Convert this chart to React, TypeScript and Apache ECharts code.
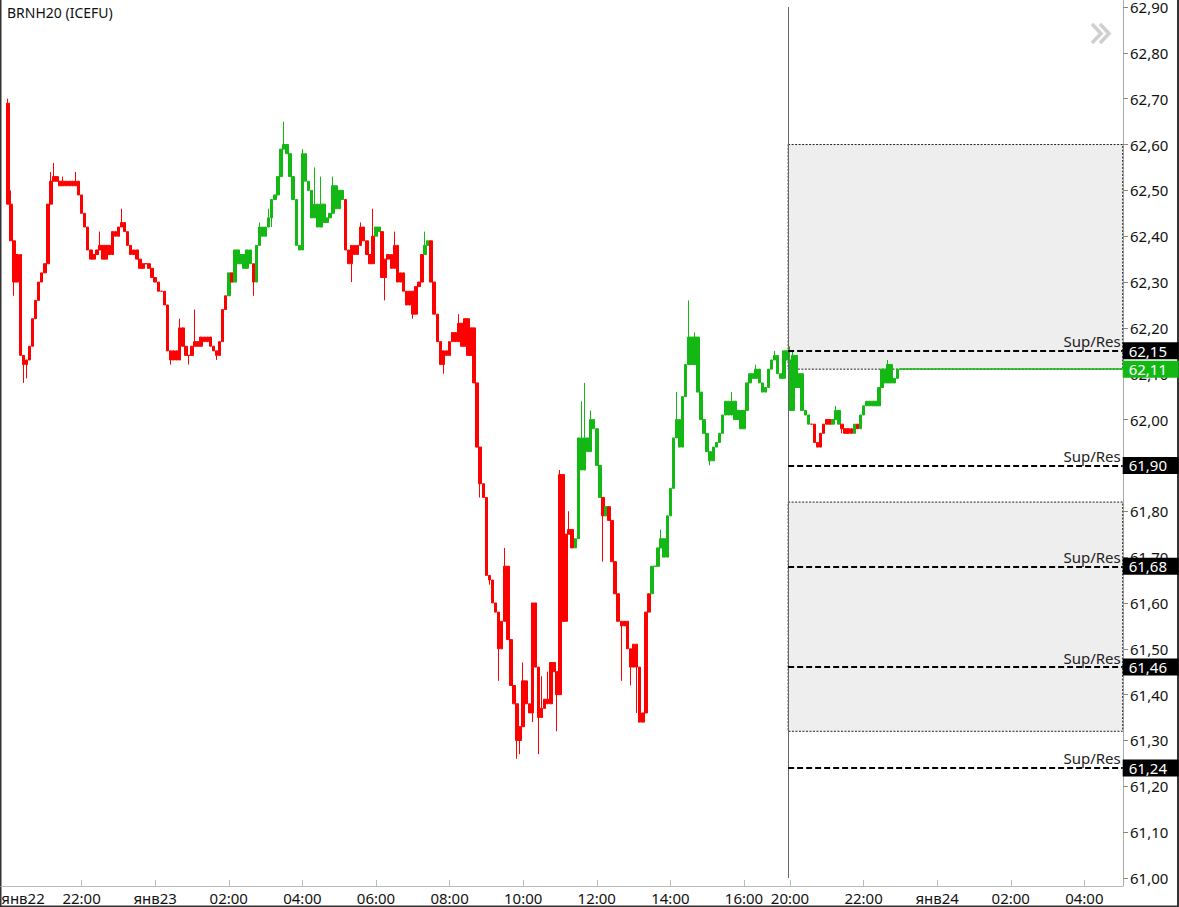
import React, { useEffect, useRef } from 'react';
import * as echarts from 'echarts';

const FONT = "'Noto Sans', 'DejaVu Sans', sans-serif";
const TITLE = 'BRNH20 (ICEFU)';
const RED = '#ff0000';
const GREEN = '#14b814';

// 5-minute bars, slot 0 = 20:00 (янв22). Open of each bar = previous close.
const FIRST_OPEN = 62.69;
const CLOSES = [
  62.47, 62.39, 62.30, 62.36, 62.14, 62.12, 62.13, 62.16, 62.22, 62.26,
  62.30, 62.32, 62.34, 62.47, 62.52, 62.53, 62.52, 62.51, 62.52, 62.51,
  62.52, 62.51, 62.52, 62.49, 62.45, 62.42, 62.37, 62.35, 62.36, 62.37,
  62.38, 62.35, 62.38, 62.36, 62.41, 62.40, 62.42, 62.43, 62.41, 62.38,
  62.36, 62.37, 62.35, 62.33, 62.34, 62.34, 62.33, 62.31, 62.30, 62.28,
  62.28, 62.25, 62.15, 62.13, 62.15, 62.13, 62.20, 62.16, 62.14, 62.14,
  62.16, 62.17, 62.16, 62.18, 62.17, 62.18, 62.16, 62.15, 62.14, 62.17,
  62.24, 62.27, 62.32, 62.30, 62.37, 62.34, 62.36, 62.33, 62.37, 62.34,
  62.30, 62.38, 62.42, 62.40, 62.42, 62.44, 62.48, 62.49, 62.53, 62.59,
  62.60, 62.58, 62.53, 62.48, 62.38, 62.37, 62.58, 62.52, 62.50, 62.44,
  62.47, 62.42, 62.47, 62.43, 62.44, 62.45, 62.51, 62.46, 62.50, 62.48,
  62.37, 62.34, 62.38, 62.36, 62.38, 62.42, 62.39, 62.36, 62.34, 62.40,
  62.42, 62.41, 62.31, 62.35, 62.36, 62.33, 62.38, 62.30, 62.32, 62.28,
  62.25, 62.28, 62.23, 62.29, 62.30, 62.36, 62.38, 62.39, 62.30, 62.23,
  62.17, 62.12, 62.15, 62.14, 62.17, 62.19, 62.17, 62.21, 62.16, 62.22,
  62.14, 62.20, 62.08, 61.94, 61.86, 61.83, 61.66, 61.65, 61.60, 61.58,
  61.50, 61.56, 61.68, 61.52, 61.42, 61.38, 61.30, 61.33, 61.43, 61.38,
  61.36, 61.60, 61.46, 61.35, 61.37, 61.39, 61.38, 61.47, 61.45, 61.40,
  61.88, 61.56, 61.75, 61.76, 61.72, 61.74, 61.96, 61.89, 61.96, 61.93,
  62.00, 61.98, 61.90, 61.83, 61.79, 61.81, 61.78, 61.69, 61.62, 61.56,
  61.55, 61.56, 61.50, 61.46, 61.51, 61.46, 61.34, 61.36, 61.58, 61.62,
  61.68, 61.68, 61.72, 61.74, 61.70, 61.79, 61.85, 61.96, 62.00, 61.94,
  62.05, 62.12, 62.18, 62.12, 62.18, 62.06, 62.00, 61.97, 61.93, 61.91,
  61.94, 61.95, 61.97, 62.01, 62.04, 62.01, 62.04, 62.00, 62.02, 61.98,
  62.02, 62.08, 62.10, 62.09, 62.11, 62.08, 62.06, 62.07, 62.11, 62.13,
  62.14, 62.10, 62.09, 62.15, 62.13, 62.02, 62.14, 62.07, 62.10, 62.02,
  62.01, 61.99, 61.99, 61.95, 61.94, 61.97, 61.99, 62.00, 61.99, 62.00,
  62.02, 61.99, 61.98, 61.97, 61.98, 61.97, 61.99, 61.98, 62.01, 62.03,
  62.04, 62.03, 62.04, 62.03, 62.07, 62.11, 62.08, 62.12, 62.08, 62.09,
  62.11, 62.11,
];

// [bar index, price] of visible wicks
const HIGH_WICKS: [number, number][] = [
  [0, 62.70], [1, 62.50], [14, 62.54], [15, 62.56], [18, 62.53], [22, 62.54], [30, 62.41],
  [37, 62.46], [56, 62.22], [61, 62.24], [82, 62.43], [85, 62.46], [90, 62.65], [96, 62.59],
  [100, 62.55], [102, 62.53], [106, 62.53], [115, 62.43], [119, 62.46], [126, 62.41],
  [136, 62.41], [147, 62.23], [162, 61.72], [168, 61.47], [174, 61.44], [176, 61.45],
  [180, 61.89], [183, 61.80], [187, 62.04], [188, 62.08], [190, 62.02], [213, 61.76],
  [218, 62.06], [222, 62.26], [224, 62.19], [236, 62.06], [244, 62.12], [250, 62.15],
  [255, 62.16], [256, 62.15], [270, 62.03], [287, 62.13],
];
const LOW_WICKS: [number, number][] = [
  [2, 62.27], [5, 62.08], [6, 62.09], [53, 62.12], [59, 62.12], [68, 62.13], [80, 62.27],
  [86, 62.42], [112, 62.30], [123, 62.26], [132, 62.22], [142, 62.10], [154, 61.83],
  [157, 61.64], [160, 61.43], [166, 61.26], [167, 61.27], [171, 61.34], [173, 61.27],
  [179, 61.32], [194, 61.69], [200, 61.43], [203, 61.42], [205, 61.36], [229, 61.90],
  [272, 61.97],
];
// [first bar index, trend colour] segments
const TREND_STARTS: [number, 'up' | 'down'][] = [
  [0, 'down'], [72, 'up'], [73, 'down'], [74, 'up'], [80, 'down'], [81, 'up'], [110, 'down'],
  [120, 'up'], [122, 'down'], [136, 'up'], [138, 'down'], [185, 'up'], [194, 'down'],
  [195, 'up'], [196, 'down'], [210, 'up'], [262, 'down'], [269, 'up'], [272, 'down'],
  [276, 'up'], [277, 'down'], [278, 'up'],
];

const X_LABEL_SLOTS = [-2.2, 24, 48, 72, 96, 120, 144, 168, 192, 216, 240, 255, 279, 303, 327, 351];
const X_LABELS = ['янв22', '22:00', 'янв23', '02:00', '04:00', '06:00', '08:00', '10:00', '12:00',
  '14:00', '16:00', '20:00', '22:00', 'янв24', '02:00', '04:00'];
const X_TICK_SLOTS = [24, 48, 72, 96, 120, 144, 168, 192, 216, 240, 255, 279, 303, 327, 351];
const Y_TICKS = [61.0, 61.1, 61.2, 61.3, 61.4, 61.5, 61.6, 61.7, 61.8, 61.9,
  62.0, 62.1, 62.2, 62.3, 62.4, 62.5, 62.6, 62.7, 62.8, 62.9];

const SUP_RES = [62.15, 61.90, 61.68, 61.46, 61.24];
const LAST_PRICE = 62.11;
const ZONES: [number, number][] = [[62.60, 62.11], [61.82, 61.32]];
const SESSION_SLOT = 254.4;
const SESSION_TOP = 62.90;
const SESSION_BOTTOM = 61.00;

const X_MIN = -2.28;
const X_MAX = 363.6;
const X_END = 363.5;
const Y_MIN = 60.9825;
const Y_MAX = 62.9153;

const fmt = (v: number) => v.toFixed(2).replace('.', ',');

function trendAt(i: number) {
  let t: 'up' | 'down' = 'down';
  for (const [start, tr] of TREND_STARTS) if (i >= start) t = tr;
  return t;
}

function buildOption() {
  const candles = CLOSES.map((c, i) => {
    const o = i === 0 ? FIRST_OPEN : CLOSES[i - 1];
    const hw = HIGH_WICKS.find((w) => w[0] === i);
    const lw = LOW_WICKS.find((w) => w[0] === i);
    const h = Math.max(o, c, hw ? hw[1] : -Infinity);
    const l = Math.min(o, c, lw ? lw[1] : Infinity);
    const col = trendAt(i) === 'up' ? GREEN : RED;
    return {
      value: [i, o, c, l, h],
      itemStyle: { color: col, color0: col, borderColor: col, borderColor0: col, borderColorDoji: col },
    };
  });

  const boxLabel = (v: number, bg: string) => ({
    show: true,
    position: 'end',
    distance: 0,
    formatter: fmt(v),
    color: '#fff',
    backgroundColor: bg,
    fontSize: 15,
    fontFamily: FONT,
    lineHeight: 15,
    width: 45,
    padding: [1, 5, 1, 6],
  });

  const markLines: any[] = [];
  markLines.push([
    { coord: [SESSION_SLOT, SESSION_TOP], lineStyle: { color: '#666', width: 1, type: 'solid' }, label: { show: false } },
    { coord: [SESSION_SLOT, SESSION_BOTTOM] },
  ]);
  SUP_RES.forEach((v) => {
    markLines.push([
      {
        coord: [SESSION_SLOT, v],
        lineStyle: { color: '#000', width: 2.2, type: [6, 3] },
        label: { show: true, position: 'insideEndTop', formatter: 'Sup/Res', color: '#222', fontSize: 15, fontFamily: FONT, distance: [2, 2] },
      },
      { coord: [X_END, v] },
    ]);
    markLines.push([
      { coord: [SESSION_SLOT, v], lineStyle: { color: 'rgba(0,0,0,0)', width: 0 }, label: boxLabel(v, '#000') },
      { coord: [X_END, v] },
    ]);
  });
  markLines.push([
    { coord: [CLOSES.length - 1, LAST_PRICE], lineStyle: { color: GREEN, width: 1.5, type: 'solid' }, label: boxLabel(LAST_PRICE, GREEN) },
    { coord: [X_END, LAST_PRICE] },
  ]);

  return {
    animation: false,
    backgroundColor: '#fff',
    textStyle: { fontFamily: FONT },
    title: {
      text: TITLE,
      left: 7,
      top: 5,
      padding: 0,
      textStyle: { fontSize: 14, fontWeight: 'normal', color: '#111', fontFamily: FONT },
    },
    grid: { left: 1, right: 56, top: 0, bottom: 21, containLabel: false, outerBoundsMode: 'none' },
    xAxis: {
      type: 'value',
      min: X_MIN,
      max: X_MAX,
      axisLine: { show: true, onZero: false, lineStyle: { color: '#bbb', width: 1 } },
      axisTick: { show: true, inside: true, length: 6, customValues: X_TICK_SLOTS, lineStyle: { color: '#bbb' } },
      axisLabel: {
        customValues: X_LABEL_SLOTS,
        formatter: (v: number) => {
          const k = X_LABEL_SLOTS.findIndex((s) => Math.abs(s - v) < 0.01);
          return k >= 0 ? X_LABELS[k] : '';
        },
        color: '#111',
        fontSize: 15,
        fontFamily: FONT,
        margin: 4,
        alignMinLabel: 'left',
        showMinLabel: true,
        showMaxLabel: true,
      },
      splitLine: { show: false },
    },
    yAxis: {
      type: 'value',
      position: 'right',
      min: Y_MIN,
      max: Y_MAX,
      scale: true,
      axisLine: { show: true, onZero: false, lineStyle: { color: '#aaa', width: 1 } },
      axisTick: { show: true, length: 5, customValues: Y_TICKS, lineStyle: { color: '#888' } },
      axisLabel: {
        customValues: Y_TICKS,
        formatter: (v: number) => fmt(v),
        color: '#111',
        fontSize: 15,
        fontFamily: FONT,
        margin: 7,
      },
      splitLine: { show: false },
    },
    series: [
      {
        type: 'candlestick',
        data: candles,
        barWidth: 3,
        clip: false,
        itemStyle: { borderWidth: 1 },
        markArea: {
          silent: true,
          label: { show: false },
          itemStyle: { color: '#eeeeee', borderColor: '#222', borderWidth: 1, borderType: [2, 1.5] },
          data: ZONES.map(([top, bottom]) => [{ coord: [SESSION_SLOT, top] }, { coord: [X_END, bottom] }]),
        },
        markLine: {
          silent: true,
          symbol: ['none', 'none'],
          animation: false,
          data: markLines,
        },
      },
    ],
    graphic: [
      { type: 'polyline', silent: true, shape: { points: [[1092, 24], [1101, 33.5], [1092, 43]] }, style: { stroke: '#cfcfcf', lineWidth: 3.5, fill: null } },
      { type: 'polyline', silent: true, shape: { points: [[1100, 24], [1109, 33.5], [1100, 43]] }, style: { stroke: '#cfcfcf', lineWidth: 3.5, fill: null } },
      { type: 'line', silent: true, shape: { x1: 0.75, y1: 0, x2: 0.75, y2: 907 }, style: { stroke: '#333', lineWidth: 1.5 } },
      { type: 'line', silent: true, shape: { x1: 0, y1: 906.25, x2: 1179, y2: 906.25 }, style: { stroke: '#333', lineWidth: 1.5 } },
      { type: 'line', silent: true, shape: { x1: 1178, y1: 0, x2: 1178, y2: 907 }, style: { stroke: '#333', lineWidth: 2 } },
    ],
  };
}

export default function App() {
  const ref = useRef<HTMLDivElement>(null);
  useEffect(() => {
    if (!ref.current) return;
    const chart = echarts.init(ref.current, null, { renderer: 'svg' });
    chart.setOption(buildOption() as any);
    return () => chart.dispose();
  }, []);
  return (
    <div
      ref={ref}
      style={{ position: 'absolute', left: 0, top: 0, width: 1179, height: 907, background: '#fff' }}
    />
  );
}
